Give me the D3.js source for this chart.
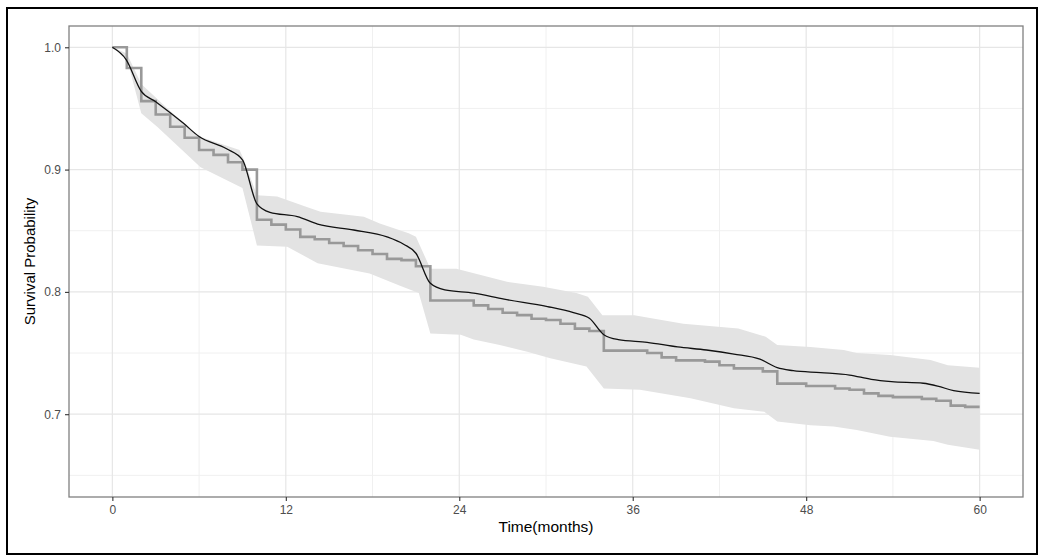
<!DOCTYPE html>
<html>
<head>
<meta charset="utf-8">
<script src="https://cdn.jsdelivr.net/npm/d3@7"></script>
<style>
  body { margin: 0; background: #fff; }
  svg { display: block; font-family: "Liberation Sans", Arial, sans-serif; }
</style>
</head>
<body>
<svg id="grafico" width="1040" height="555"></svg>
<script>
// Kaplan-Meier (escada, valor vale de t até t+1)
var kmTempo = d3.range(0, 61);
var kmSobrev = [
    1.000, 0.983, 0.956, 0.945, 0.935, 0.926, 0.916, 0.912, 0.906, 0.900,
    0.859, 0.855, 0.851, 0.845, 0.843, 0.840, 0.8375, 0.834, 0.831, 0.827,
    0.826, 0.821, 0.793, 0.793, 0.793, 0.789, 0.786, 0.783, 0.781, 0.778,
    0.777, 0.774, 0.770, 0.768, 0.752, 0.752, 0.752, 0.750, 0.7465, 0.744,
    0.744, 0.743, 0.740, 0.7375, 0.7375, 0.735, 0.725, 0.725, 0.723, 0.723,
    0.721, 0.720, 0.717, 0.715, 0.714, 0.714, 0.7125, 0.711, 0.707, 0.706,
    0.706
];

// curva prevista (linha preta)
var prevTempo = [0, 0.95, 2, 3, 4.9, 6, 7.9, 9, 10, 10.9, 12.8, 14.2, 16.7, 19, 20.15, 21,
    22, 23, 25, 27.1, 30.1, 31.9, 33, 34, 35, 37, 39.1, 41.1, 43, 44.8, 46, 47.1,
    49, 51, 52.5, 53.9, 56.1, 57.1, 58.2, 60];
var prevSobrev = [1.000, 0.990, 0.9640, 0.9555, 0.938, 0.927, 0.917, 0.908, 0.872, 0.865,
    0.8615, 0.8555, 0.8506, 0.845, 0.839, 0.8316,
    0.807, 0.8016, 0.799, 0.794, 0.788, 0.783, 0.7784, 0.765, 0.761, 0.7588, 0.755, 0.7525,
    0.7492, 0.745, 0.738, 0.7356, 0.734, 0.732, 0.7285, 0.7266, 0.7253, 0.723, 0.7192, 0.717];

// intervalo de confiança
var icSupTempo = [0, 1, 2, 4, 6, 8.8, 9.1, 10, 11.4, 13.3, 14.4, 17.4, 18.5, 20.5, 21, 22,
    23.8, 27.3, 29.8, 32.1, 32.9, 33.9, 36.1, 39.5, 43.3, 45.2, 46, 48.3, 50.6, 51.5,
    53.8, 56.6, 57.8, 60];
var icSup = [1.000, 0.995, 0.970, 0.948, 0.927, 0.916, 0.908, 0.879, 0.878, 0.870, 0.8656,
    0.8615, 0.856, 0.848, 0.845, 0.819, 0.819, 0.8083, 0.8043, 0.799, 0.796, 0.781, 0.781,
    0.774, 0.770, 0.7634, 0.7566, 0.755, 0.7525, 0.750, 0.7484, 0.7443, 0.740, 0.738];
var icInfTempo = [0, 1, 2, 3.1, 6.1, 9, 10, 12.1, 14.2, 17.8, 19.9, 21.2, 22, 24.1, 25, 26.8,
    28.7, 30.3, 32.8, 34, 36.5, 40, 43, 45.1, 46, 48.3, 49.9, 51.5, 53.8, 56.8, 57.8, 60];
var icInf = [1.000, 0.991, 0.946, 0.935, 0.902, 0.885, 0.838, 0.837, 0.8234, 0.815, 0.805,
    0.799, 0.766, 0.765, 0.761, 0.7566, 0.751, 0.7457, 0.739, 0.721, 0.720, 0.713, 0.7048,
    0.702, 0.694, 0.691, 0.690, 0.687, 0.6816, 0.678, 0.675, 0.671];

var ticksX = [0, 12, 24, 36, 48, 60];
var ticksY = [0.7, 0.8, 0.9, 1.0];
var ticksXMenor = [6, 18, 30, 42, 54];
var ticksYMenor = [0.65, 0.75, 0.85, 0.95];

var svg = d3.select("#grafico");
var esq = 69, dir = 1023, topo = 26, base = 497;

var x = d3.scaleLinear().domain([-3, 63]).range([esq, dir]);
var y = d3.scaleLinear().domain([0.6323, 1.0174]).range([base, topo]);

// moldura externa
svg.append("rect")
    .attr("x", 7).attr("y", 8)
    .attr("width", 1030).attr("height", 546)
    .attr("fill", "none")
    .attr("stroke", "#000")
    .attr("stroke-width", 2);

var grade = svg.append("g");
grade.selectAll("line.ym").data(ticksYMenor).enter().append("line")
    .attr("x1", esq).attr("x2", dir)
    .attr("y1", d => y(d)).attr("y2", d => y(d))
    .attr("stroke", "#f0f0f0").attr("stroke-width", 1);
grade.selectAll("line.xm").data(ticksXMenor).enter().append("line")
    .attr("y1", topo).attr("y2", base)
    .attr("x1", d => x(d)).attr("x2", d => x(d))
    .attr("stroke", "#f0f0f0").attr("stroke-width", 1);
grade.selectAll("line.y").data(ticksY).enter().append("line")
    .attr("x1", esq).attr("x2", dir)
    .attr("y1", d => y(d)).attr("y2", d => y(d))
    .attr("stroke", "#e6e6e6").attr("stroke-width", 1.2);
grade.selectAll("line.x").data(ticksX).enter().append("line")
    .attr("y1", topo).attr("y2", base)
    .attr("x1", d => x(d)).attr("x2", d => x(d))
    .attr("stroke", "#e6e6e6").attr("stroke-width", 1.2);

// faixa do IC: borda superior e depois inferior invertida
var pontosFaixa = icSupTempo.map((t, i) => [t, icSup[i]])
    .concat(icInfTempo.map((t, i) => [t, icInf[i]]).reverse());
svg.append("path")
    .attr("d", d3.line().x(d => x(d[0])).y(d => y(d[1]))(pontosFaixa) + "Z")
    .attr("fill", "#e3e3e3");

svg.append("path")
    .datum(kmTempo.map((t, i) => [t, kmSobrev[i]]))
    .attr("d", d3.line().curve(d3.curveStepAfter).x(d => x(d[0])).y(d => y(d[1])))
    .attr("fill", "none")
    .attr("stroke", "#999999")
    .attr("stroke-width", 2.6);

svg.append("path")
    .datum(prevTempo.map((t, i) => [t, prevSobrev[i]]))
    .attr("d", d3.line().curve(d3.curveMonotoneX).x(d => x(d[0])).y(d => y(d[1])))
    .attr("fill", "none")
    .attr("stroke", "#111")
    .attr("stroke-width", 1.3);

// borda do painel
svg.append("rect")
    .attr("x", esq).attr("y", topo)
    .attr("width", dir - esq).attr("height", base - topo)
    .attr("fill", "none")
    .attr("stroke", "#808080")
    .attr("stroke-width", 1.3);

// eixos
var eixoX = svg.append("g")
    .attr("transform", "translate(0," + base + ")")
    .call(d3.axisBottom(x).tickValues(ticksX).tickSize(4).tickPadding(4).tickFormat(d3.format("d")));
var eixoY = svg.append("g")
    .attr("transform", "translate(" + esq + ",0)")
    .call(d3.axisLeft(y).tickValues(ticksY).tickSize(4).tickPadding(4).tickFormat(d3.format(".1f")));
[eixoX, eixoY].forEach(function (g) {
    g.select(".domain").remove();
    g.selectAll(".tick line").attr("stroke", "#333").attr("stroke-width", 1.1);
    g.selectAll(".tick text")
        .attr("fill", "#4d4d4d")
        .style("font-size", "12px")
        .style("font-family", "'Liberation Sans', Arial, sans-serif");
});

svg.append("text")
    .attr("x", (esq + dir) / 2)
    .attr("y", 532)
    .attr("text-anchor", "middle")
    .style("font-size", "15.5px")
    .text("Time(months)");

svg.append("text")
    .attr("transform", "translate(35," + (topo + base) / 2 + ") rotate(-90)")
    .attr("text-anchor", "middle")
    .style("font-size", "15px")
    .text("Survival Probability");
</script>
</body>
</html>
